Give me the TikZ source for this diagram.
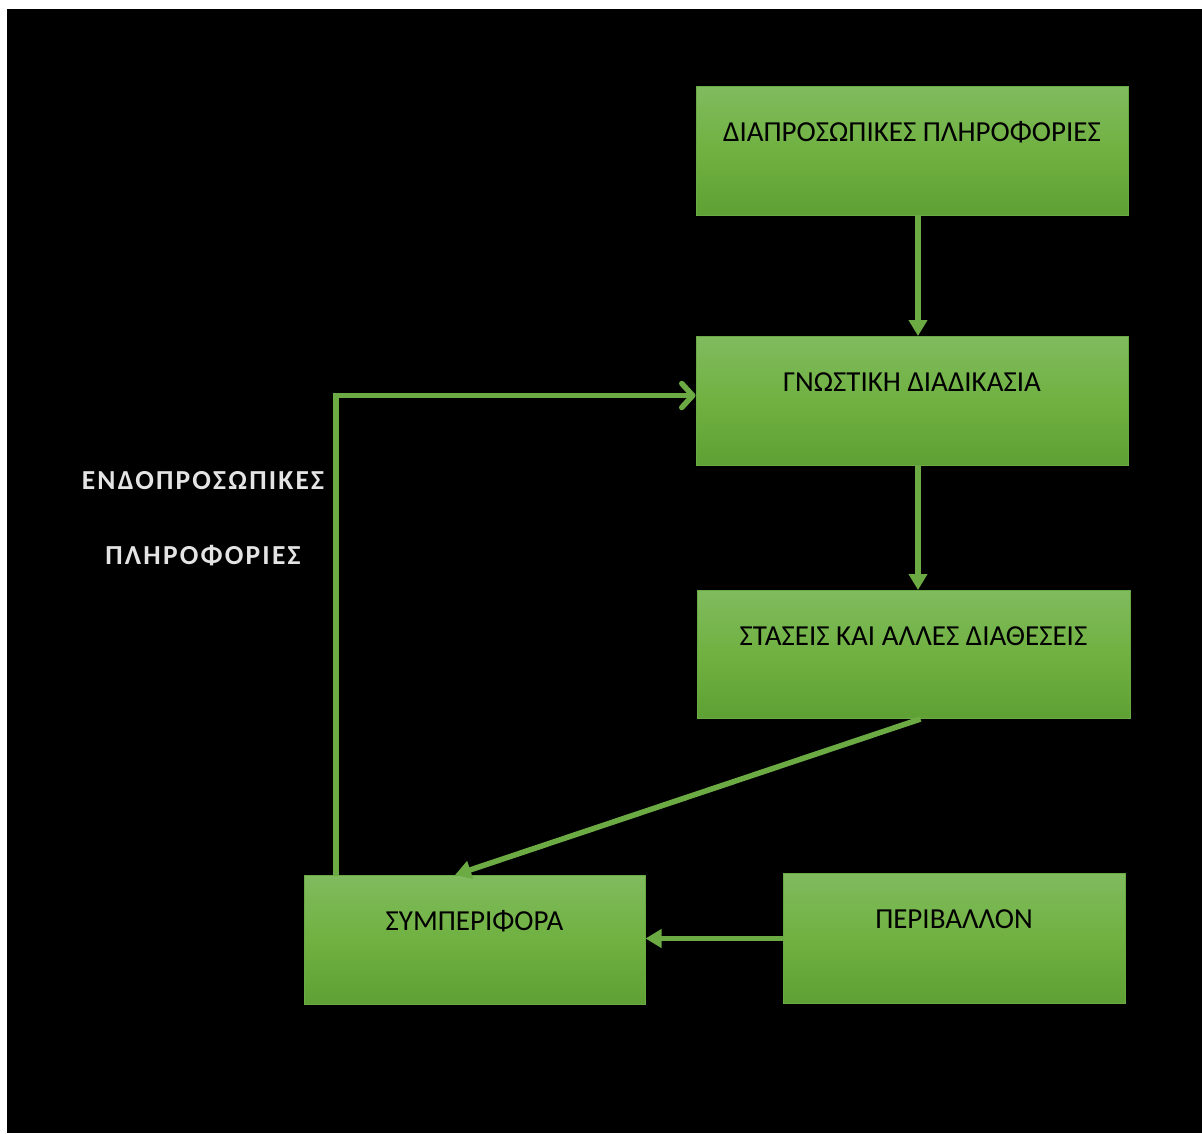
\documentclass[tikz,border=0pt]{standalone}
\usepackage{fontspec}
\setmainfont{Carlito}
\newfontfamily\labelfont[LetterSpace=8]{Carlito}
\usetikzlibrary{arrows.meta}
\definecolor{boxtop}{HTML}{80BB5E}
\definecolor{boxmid}{HTML}{70B141}
\definecolor{boxbot}{HTML}{5FA034}
\definecolor{boxedge}{HTML}{6AAA45}
\definecolor{linkgreen}{HTML}{6CAA44}
\definecolor{labelgrey}{HTML}{E4E4E4}
\begin{document}
\begin{tikzpicture}[x=1pt,y=-1pt,
  stagebox/.style={rectangle, draw=boxedge, line width=1pt,
    top color=boxtop, bottom color=boxbot, middle color=boxmid,
    inner xsep=0pt, inner ysep=0pt, anchor=north,
    text height=55pt, text depth=74pt,
    font=\fontsize{29}{33}\selectfont, text=black},
  link/.style={draw=linkgreen, line width=5.5pt},
  solidtip/.style={link, -{Triangle[length=16pt,width=18pt]}},
  opentip/.style={link, -{Straight Barb[length=11pt,width=24pt,round]}}
]
  % page and dark canvas
  \fill[white] (0,0) rectangle (1202,1133);
  \fill[black] (7,9) rectangle (1202,1133);

  % stages
  \node[stagebox, minimum width=432pt] (dia) at (912,86) {ΔΙΑΠΡΟΣΩΠΙΚΕΣ ΠΛΗΡΟΦΟΡΙΕΣ};
  \node[stagebox, minimum width=432pt] (gn) at (912,336) {ΓΝΩΣΤΙΚΗ ΔΙΑΔΙΚΑΣΙΑ};
  \node[stagebox, minimum width=433pt, text depth=73pt] (st) at (913.5,590) {ΣΤΑΣΕΙΣ ΚΑΙ ΑΛΛΕΣ ΔΙΑΘΕΣΕΙΣ};
  \node[stagebox, minimum width=341pt] (sy) at (474.5,875) {ΣΥΜΠΕΡΙΦΟΡΑ};
  \node[stagebox, minimum width=342pt, text depth=75pt] (pe) at (954,873) {ΠΕΡΙΒΑΛΛΟΝ};

  % side label of the feedback loop
  \node[font=\labelfont\bfseries\fontsize{27.5}{75}\selectfont, text=labelgrey,
        align=center] (endo) at (203,519) {ΕΝΔΟΠΡΟΣΩΠΙΚΕΣ\\ΠΛΗΡΟΦΟΡΙΕΣ};

  % connectors
  \draw[solidtip] ([xshift=6pt]dia.south) -- ([xshift=6pt]gn.north);
  \draw[solidtip] ([xshift=6pt]gn.south) -- ([xshift=6pt]gn.south |- st.north);
  \draw[solidtip] ([xshift=7pt]st.south) -- ([xshift=-19.5pt]sy.north);
  \draw[solidtip] (pe.west) -- (pe.west -| sy.east);
  \draw[opentip] ([xshift=-138.5pt]sy.north) |- ([yshift=5.5pt]gn.west);
\end{tikzpicture}
\end{document}
